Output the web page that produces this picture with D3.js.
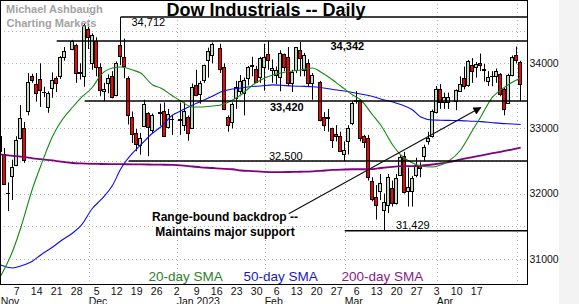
<!DOCTYPE html>
<html>
<head>
<meta charset="utf-8">
<script src="https://cdn.jsdelivr.net/npm/d3@7"></script>
<style>
  body { margin: 0; background: #fff; }
  svg { display: block; font-family: "Liberation Sans", Arial, sans-serif; }
</style>
</head>
<body>
<svg id="chart" width="579" height="304"></svg>
<script>
// trading days shown on the chart
const dates = [
  '2022-11-01','2022-11-02','2022-11-03','2022-11-04','2022-11-07','2022-11-08','2022-11-09','2022-11-10','2022-11-11','2022-11-14','2022-11-15','2022-11-16','2022-11-17','2022-11-18','2022-11-21','2022-11-22','2022-11-23','2022-11-25','2022-11-28','2022-11-29','2022-11-30',
  '2022-12-01','2022-12-02','2022-12-05','2022-12-06','2022-12-07','2022-12-08','2022-12-09','2022-12-12','2022-12-13','2022-12-14','2022-12-15','2022-12-16','2022-12-19','2022-12-20','2022-12-21','2022-12-22','2022-12-23','2022-12-27','2022-12-28','2022-12-29','2022-12-30',
  '2023-01-03','2023-01-04','2023-01-05','2023-01-06','2023-01-09','2023-01-10','2023-01-11','2023-01-12','2023-01-13','2023-01-17','2023-01-18','2023-01-19','2023-01-20','2023-01-23','2023-01-24','2023-01-25','2023-01-26','2023-01-27','2023-01-30','2023-01-31',
  '2023-02-01','2023-02-02','2023-02-03','2023-02-06','2023-02-07','2023-02-08','2023-02-09','2023-02-10','2023-02-13','2023-02-14','2023-02-15','2023-02-16','2023-02-17','2023-02-21','2023-02-22','2023-02-23','2023-02-24','2023-02-27','2023-02-28',
  '2023-03-01','2023-03-02','2023-03-03','2023-03-06','2023-03-07','2023-03-08','2023-03-09','2023-03-10','2023-03-13','2023-03-14','2023-03-15','2023-03-16','2023-03-17','2023-03-20','2023-03-21','2023-03-22','2023-03-23','2023-03-24','2023-03-27','2023-03-28','2023-03-29','2023-03-30','2023-03-31',
  '2023-04-03','2023-04-04','2023-04-05','2023-04-06','2023-04-10','2023-04-11','2023-04-12','2023-04-13','2023-04-14','2023-04-17','2023-04-18','2023-04-19','2023-04-20','2023-04-21','2023-04-24','2023-04-25','2023-04-26','2023-04-27','2023-04-28','2023-05-01','2023-05-02'
];

const open = [
  32880,32600,32010,32270,32440,32850,33000,33260,33810,33680,33760,33560,33330,33620,33770,33810,34090,34220,34280,33860,33800,
  34530,34000,34350,33949,33570,33690,33800,33515,34280,34090,33770,33170,32928,32750,33040,33235,32970,33250,33270,33020,33150,
  33150,33060,33180,33010,33668,33530,33744,34050,34127,34229,33949,33173,33091,33464,33575,33541,33770,33960,33908,33795,
  33950,34138,33900,33820,33795,34138,34101,33694,33898,34204,33898,34010,33694,33719,33183,33170,33005,32913,32887,
  32600,32800,33082,33420,33438,32877,32852,32189,31950,32034,31740,31830,32087,31857,32280,32570,32040,32040,32290,32443,32570,32800,32877,
  33259,33600,33412,33412,33428,33580,33770,33668,33974,33939,34000,33910,33734,33800,33810,33832,33600,33388,33821,34127,34025
];
const high = [
  32950,32700,32170,32520,32880,33360,33100,33850,33840,33850,34000,33640,33570,33860,33800,34110,34250,34360,34300,34000,34620,
  34600,34460,34400,34000,33700,33830,33880,34030,34712,34380,33800,33260,32990,32930,33440,33250,33230,33380,33400,33300,33200,
  33400,33400,33200,33690,33900,33730,33980,34240,34320,34300,34000,33200,33400,33730,33820,33780,33960,34100,33960,34100,
  34300,34342,34060,33950,34200,34150,34250,33900,34250,34330,34160,34060,33850,33730,33250,33300,33010,33050,32950,
  32800,33050,33420,33572,33450,32900,32900,32250,32130,32300,32000,32300,32200,32300,32590,32640,32400,32270,32550,32480,32750,32950,33290,
  33650,33680,33550,33550,33600,33800,33950,34050,34080,34020,34150,33990,33880,33880,33920,33850,33620,33840,34120,34257,34040
];
const low = [
  32580,32140,31730,31900,32420,32830,32470,33200,33700,33410,33330,33480,33240,33470,33560,33760,34040,34200,33700,33750,33640,
  34220,33900,33800,33500,33420,33540,33460,33510,33970,33770,33060,32775,32650,32596,33020,32573,32930,33040,32870,33000,32900,
  32900,32960,32810,33000,33500,33380,33700,33780,34000,33850,33280,32950,33000,33300,33530,33200,33660,33800,33700,33700,
  33580,33900,33700,33680,33570,33880,33650,33560,33850,33800,33800,33650,33440,33110,32960,32950,32700,32800,32650,
  32500,32600,33050,33380,32800,32700,32200,31880,31600,31900,31429,31700,31800,31830,32270,32000,31800,31800,32250,32250,32500,32750,32860,
  33230,33300,33300,33300,33280,33560,33600,33640,33700,33780,33880,33720,33650,33650,33700,33500,33200,33380,33800,34000,33420
];
const close = [
  32653,32148,32001,32403,32827,33160,32514,33716,33748,33537,33593,33554,33547,33746,33705,34098,34195,34347,33850,33853,34590,
  34400,34430,33947,33597,33598,33781,33477,34005,34108,33966,33203,32920,32757,32850,33377,33027,33204,33241,32876,33221,33147,
  33136,33270,32930,33631,33518,33704,33973,34190,34303,33910,33297,33045,33375,33630,33734,33744,33949,33978,33717,34086,
  34093,34054,33926,33891,34156,33949,33699,33869,34246,34089,34128,33697,33827,33130,33045,33154,32817,32889,32657,
  32662,33004,33391,33432,32856,32798,32255,31910,31820,32155,31875,32247,31862,32245,32561,32030,32106,32238,32432,32395,32718,32860,33274,
  33601,33403,33483,33486,33587,33685,33647,34030,33886,33987,33977,33897,33787,33809,33875,33531,33302,33827,34098,34051,33684
];

const smaDates = [
  '2022-11-01','2022-11-04','2022-11-08','2022-11-11','2022-11-15','2022-11-18','2022-11-22','2022-11-25','2022-11-29',
  '2022-12-02','2022-12-06','2022-12-09','2022-12-13','2022-12-16','2022-12-20','2022-12-23','2022-12-27','2022-12-30',
  '2023-01-03','2023-01-06','2023-01-10','2023-01-13','2023-01-17','2023-01-20','2023-01-24','2023-01-27','2023-01-31',
  '2023-02-03','2023-02-07','2023-02-10','2023-02-14','2023-02-17','2023-02-21','2023-02-24','2023-02-28',
  '2023-03-03','2023-03-07','2023-03-10','2023-03-14','2023-03-17','2023-03-21','2023-03-24','2023-03-28','2023-03-31',
  '2023-04-04','2023-04-06','2023-04-11','2023-04-14','2023-04-18','2023-04-21','2023-04-25','2023-04-28','2023-05-02'
];
const sma20 = [
  30734,31118,31471,32085,32423,32884,33099,33329,33467,
  33636,33820,33928,33943,33897,33851,33667,33621,33498,
  33421,33329,33329,33344,33360,33437,33513,33667,33744,
  33820,33851,33882,33897,33928,33866,33744,33651,
  33513,33437,33206,33053,32746,32592,32469,32423,32408,
  32439,32500,32669,32976,33176,33483,33590,33713,33774
];
const sma50 = [
  30903,30857,30888,30965,31057,31179,31272,31394,31502,
  31778,31901,32131,32377,32623,32746,32930,33022,33206,
  33268,33360,33413,33498,33559,33605,33621,33644,33651,
  33668,33662,33651,33647,33641,33628,33598,33582,
  33552,33529,33490,33452,33406,33367,33283,33176,33129,
  33126,33123,33120,33111,33105,33088,33077,33068,33060
];
const sma200 = [
  32600,32580,32567,32541,32528,32508,32489,32469,32463,
  32457,32454,32452,32451,32449,32448,32445,32443,32440,
  32434,32415,32403,32392,32383,32373,32354,32344,32337,
  32328,32328,32332,32335,32341,32349,32362,32366,
  32373,32373,32376,32392,32411,32420,32420,32429,32446,
  32462,32482,32523,32561,32584,32619,32641,32680,32704
];

// support / resistance levels
const levels = [34712, 34342, 33420, 32500, 31429];
const levelFrom = ['2022-12-13', '2022-11-21', '2022-11-30', '2022-12-15', '2023-03-01'];
const levelText = ['34,712', '34,342', '33,420', '32,500', '31,429'];
const levelBold = [false, true, true, false, false];

const yTicks = [31000, 32000, 33000, 34000];
const weekTicks = ['2022-11-07','2022-11-14','2022-11-21','2022-11-28','2022-12-05','2022-12-12','2022-12-19','2022-12-26',
  '2023-01-02','2023-01-09','2023-01-16','2023-01-23','2023-01-30','2023-02-06','2023-02-13','2023-02-20','2023-02-27',
  '2023-03-06','2023-03-13','2023-03-20','2023-03-27','2023-04-03','2023-04-10','2023-04-17'];
const monthStarts = ['2022-11-01','2022-12-01','2023-01-02','2023-02-01','2023-03-01','2023-04-03'];
const monthNames = ['Nov','Dec','Jan 2023','Feb','Mar','Apr'];
const monthGrid = ['2022-12-01','2023-01-02','2023-02-01','2023-03-01','2023-04-03','2023-05-01'];

const trendFrom = ['2023-02-09', 31690];
const trendTo = ['2023-04-18', 33320];

const plotR = 527, plotB = 284;
const svg = d3.select('#chart');

svg.append('rect').attr('x', 559).attr('y', 0).attr('width', 20).attr('height', 304).attr('fill', '#f3f3f3');

let parse = d3.utcParse('%Y-%m-%d');
let fmt = d3.utcFormat('%Y-%m-%d');
// one slot per weekday, holidays stay empty
let weekdays = d3.utcDays(parse(dates[0]), d3.utcDay.offset(parse(dates[dates.length - 1]), 1))
    .filter(d => d.getUTCDay() !== 0 && d.getUTCDay() !== 6)
    .map(fmt);

let x = d3.scaleBand().domain(weekdays).range([-1.3, 522.7]);
let cx = d => x(d) + x.bandwidth() / 2;
let y = d3.scaleLinear().domain([30611, 34972]).range([plotB, 0]);

svg.append('defs').append('clipPath').attr('id', 'plotClip')
    .append('rect').attr('x', 0).attr('y', 0).attr('width', plotR).attr('height', plotB);
svg.select('defs').append('marker')
    .attr('id', 'arrow')
    .attr('viewBox', '0 0 10 10')
    .attr('refX', 9).attr('refY', 5)
    .attr('markerUnits', 'userSpaceOnUse')
    .attr('markerWidth', 11).attr('markerHeight', 8)
    .attr('orient', 'auto')
    .append('path').attr('d', 'M0,0L10,5L0,10z').attr('fill', '#000');

let plot = svg.append('g').attr('clip-path', 'url(#plotClip)');

// grid
plot.append('g')
    .selectAll('line')
    .data(d3.range(31000, 35000, 500))
    .join('line')
    .attr('x1', 0).attr('x2', plotR)
    .attr('y1', d => Math.round(y(d)) + 0.5).attr('y2', d => Math.round(y(d)) + 0.5)
    .attr('stroke', '#b4b4b4').attr('stroke-dasharray', '1,3');
plot.append('g')
    .selectAll('line')
    .data(monthGrid)
    .join('line')
    .attr('x1', d => Math.round(cx(d)) + 0.5).attr('x2', d => Math.round(cx(d)) + 0.5)
    .attr('y1', 0).attr('y2', plotB)
    .attr('stroke', '#b4b4b4').attr('stroke-dasharray', '1,3');

// watermark
svg.append('text').attr('x', 6).attr('y', 12.5).text('Michael Ashbaugh')
    .attr('font-size', 11).attr('font-weight', 'bold').attr('fill', '#a3a3a3');
svg.append('text').attr('x', 6.5).attr('y', 26.7).text('Charting Markets')
    .attr('font-size', 11).attr('font-weight', 'bold').attr('fill', '#a3a3a3');

// candles
let candles = dates.map((d, i) => ({date: d, o: open[i], h: high[i], l: low[i], c: close[i]}));
let cg = plot.append('g');
cg.selectAll('line')
    .data(candles)
    .join('line')
    .attr('x1', d => Math.round(cx(d.date)) - 0.5)
    .attr('x2', d => Math.round(cx(d.date)) - 0.5)
    .attr('y1', d => y(d.h))
    .attr('y2', d => y(d.l))
    .attr('stroke', '#000')
    .attr('stroke-width', 1);
cg.selectAll('rect')
    .data(candles)
    .join('rect')
    .attr('x', d => Math.round(cx(d.date)) - 2.5)
    .attr('y', d => Math.round(y(Math.max(d.o, d.c))) + 0.5)
    .attr('width', 3)
    .attr('height', d => Math.max(0.01, Math.round(y(Math.min(d.o, d.c))) - Math.round(y(Math.max(d.o, d.c)))))
    .attr('fill', d => d.c < d.o ? '#ff0000' : '#c2dcc2')
    .attr('stroke', '#000')
    .attr('stroke-width', 1);

// moving averages
let smaLine = vals => d3.line()
    .x((d, i) => cx(smaDates[i]))
    .y(d => y(d))
    .curve(d3.curveMonotoneX)(vals);
plot.append('path').attr('d', smaLine(sma200)).attr('fill', 'none').attr('stroke', '#800080').attr('stroke-width', 1.8);
plot.append('path').attr('d', smaLine(sma50)).attr('fill', 'none').attr('stroke', '#0a0aee').attr('stroke-width', 1.1);
plot.append('path').attr('d', smaLine(sma20)).attr('fill', 'none').attr('stroke', '#108a10').attr('stroke-width', 1.1);

// level lines
plot.append('g')
    .selectAll('line')
    .data(levels)
    .join('line')
    .attr('x1', (d, i) => cx(levelFrom[i]))
    .attr('x2', plotR)
    .attr('y1', d => y(d)).attr('y2', d => y(d))
    .attr('stroke', '#000').attr('stroke-width', 1.4);

let labelX = [131.5, 330.5, 270, 269, 396];
let labelDy = [9, 9, 9.6, -1.2, -1.3];
svg.append('g')
    .selectAll('text')
    .data(levels)
    .join('text')
    .attr('x', (d, i) => labelX[i])
    .attr('y', (d, i) => y(d) + labelDy[i])
    .attr('font-size', 11)
    .attr('font-weight', (d, i) => levelBold[i] ? 'bold' : 'normal')
    .attr('fill', '#000')
    .text((d, i) => levelText[i]);

// trend arrow / leader line
svg.append('line')
    .attr('x1', cx(trendFrom[0])).attr('y1', y(trendFrom[1]))
    .attr('x2', cx(trendTo[0])).attr('y2', y(trendTo[1]))
    .attr('stroke', '#111').attr('stroke-width', 1.2)
    .attr('marker-end', 'url(#arrow)');

svg.append('text').attr('x', 225).attr('y', 221).attr('text-anchor', 'middle')
    .attr('font-size', 12).attr('font-weight', 'bold').text('Range-bound backdrop --');
svg.append('text').attr('x', 225).attr('y', 235.5).attr('text-anchor', 'middle')
    .attr('font-size', 12).attr('font-weight', 'bold').text('Maintains major support');

// title
svg.append('text').attr('x', 166.5).attr('y', 15.5)
    .attr('font-size', 18).attr('font-weight', 'bold').attr('fill', '#000')
    .text('Dow Industrials -- Daily');

// legend
svg.append('text').attr('x', 148.5).attr('y', 280.5).attr('font-size', 13.5).attr('fill', '#2f7d2f').text('20-day SMA');
svg.append('text').attr('x', 243.5).attr('y', 280.5).attr('font-size', 13.5).attr('fill', '#1a1acc').text('50-day SMA');
svg.append('text').attr('x', 341.5).attr('y', 280.5).attr('font-size', 13.5).attr('fill', '#8a1a8a').text('200-day SMA');

// frame
svg.append('rect').attr('x', 0.5).attr('y', 0.5).attr('width', plotR).attr('height', plotB)
    .attr('fill', 'none').attr('stroke', '#000').attr('stroke-width', 1);

// axes
let yAxis = svg.append('g')
    .attr('transform', `translate(${plotR + 0.5},0)`)
    .call(d3.axisRight(y).tickValues(yTicks).tickSize(0).tickPadding(2).tickFormat(d3.format('d')));
yAxis.select('.domain').remove();
yAxis.selectAll('text').attr('font-size', 10.5).attr('font-family', null).attr('fill', '#111');

let xAxis = svg.append('g')
    .attr('transform', `translate(0,${plotB})`)
    .call(d3.axisBottom(x).tickValues(weekTicks).tickSize(0).tickPadding(4).tickFormat(d => +d.slice(8)));
xAxis.select('.domain').remove();
xAxis.selectAll('text').attr('font-size', 10.5).attr('font-family', null).attr('fill', '#111');

svg.append('g')
    .selectAll('text')
    .data(monthStarts)
    .join('text')
    .attr('x', d => Math.max(0, cx(d)))
    .attr('y', 305)
    .attr('font-size', 10.5)
    .attr('fill', '#111')
    .text((d, i) => monthNames[i]);
</script>
</body>
</html>
